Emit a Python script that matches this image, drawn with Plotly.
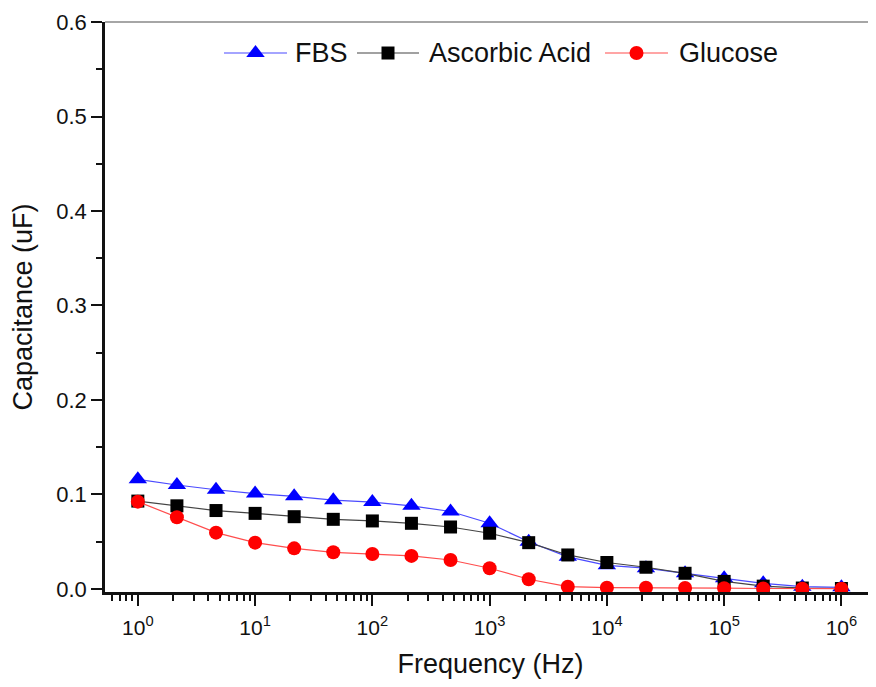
import plotly.graph_objects as go

freq = [1, 2.154, 4.642, 10, 21.54, 46.42, 100, 215.4, 464.2, 1000, 2154, 4642,
        1e4, 2.154e4, 4.642e4, 1e5, 2.154e5, 4.642e5, 1e6]
fbs = [0.116, 0.110, 0.105, 0.101, 0.098, 0.094, 0.092, 0.088, 0.082, 0.0695, 0.050,
       0.034, 0.025, 0.022, 0.0166, 0.0113, 0.006, 0.0024, 0.0018]
ascorbic = [0.093, 0.088, 0.083, 0.080, 0.0765, 0.0737, 0.072, 0.0695, 0.0656, 0.059, 0.049,
            0.036, 0.028, 0.023, 0.0166, 0.008, 0.003, 0.001, 0.0005]
glucose = [0.0924, 0.0759, 0.0596, 0.049, 0.043, 0.0388, 0.037, 0.035, 0.0307, 0.0219, 0.0103,
           0.0024, 0.0014, 0.0014, 0.001, 0.0008, 0.0005, 0.0003, 0.0003]
series_names = ["FBS", "Ascorbic Acid", "Glucose"]

major_vals = [1, 10, 100, 1000, 1e4, 1e5, 1e6]
major_text = ["10<sup>%d</sup>" % i for i in range(7)]
minor_vals = [m * 10 ** k for k in range(-1, 7) for m in range(2, 10)]

styles = [
    dict(line=dict(color="#4a4aff", width=1.2),
         marker=dict(symbol="triangle-up", size=16, color="#0000ff")),
    dict(line=dict(color="#444444", width=1.2),
         marker=dict(symbol="square", size=13, color="#000000")),
    dict(line=dict(color="#ff4d4d", width=1.2),
         marker=dict(symbol="circle", size=14, color="#ff0000")),
]

fig = go.Figure()
for name, ys, st in zip(series_names, [fbs, ascorbic, glucose], styles):
    fig.add_trace(go.Scatter(x=freq, y=ys, name=name, mode="lines+markers",
                             showlegend=False, **st))

# custom legend (paper-like overlay axes)
leg_y = 0.9456
leg_lines = [(0.1543, 0.2361), (0.3268, 0.4073), (0.6485, 0.7302)]
leg_text_x = [0.2442, 0.4170, 0.7419]
for (x0, x1), tx, name, st in zip(leg_lines, leg_text_x, series_names, styles):
    fig.add_trace(go.Scatter(x=[x0, (x0 + x1) / 2, x1], y=[leg_y] * 3,
                             mode="lines", line=st["line"], xaxis="x2", yaxis="y2",
                             showlegend=False, hoverinfo="skip"))
    fig.add_trace(go.Scatter(x=[(x0 + x1) / 2], y=[leg_y], mode="markers",
                             marker=st["marker"], xaxis="x2", yaxis="y2",
                             showlegend=False, hoverinfo="skip"))
    fig.add_annotation(x=tx, y=leg_y, xref="x2", yref="y2", text=name,
                       showarrow=False, xanchor="left", yanchor="middle",
                       font=dict(size=27, color="#111111"))

fig.update_layout(
    width=868, height=671,
    margin=dict(l=97, r=0, t=14, b=87),
    paper_bgcolor="white", plot_bgcolor="white",
    font=dict(family="Liberation Sans, Arial", color="#111111"),
    showlegend=False,
    xaxis2=dict(overlaying="x", range=[0, 1], visible=False, fixedrange=True),
    yaxis2=dict(overlaying="y", range=[0, 1], visible=False, fixedrange=True),
)
fig.update_layout(xaxis=dict(
    type="log", range=[-0.28, 6.295],
    tickmode="array", tickvals=major_vals, ticktext=major_text,
    ticks="outside", ticklen=11, tickwidth=2, tickcolor="#111111",
    showline=True, linecolor="#111111", linewidth=2.5,
    showgrid=False, zeroline=False,
    tickfont=dict(size=21), ticklabelstandoff=4,
    minor=dict(tickmode="array", tickvals=minor_vals, ticks="outside", ticklen=6,
               tickwidth=2, tickcolor="#111111", showgrid=False),
    title=dict(text="Frequency (Hz)", font=dict(size=27), standoff=20),
))
fig.update_layout(yaxis=dict(
    range=[-0.0032, 0.6], tickmode="linear", tick0=0, dtick=0.1, tickformat=".1f",
    ticks="outside", ticklen=11, tickwidth=2, tickcolor="#111111",
    showline=True, linecolor="#111111", linewidth=2.5,
    showgrid=False, zeroline=False,
    tickfont=dict(size=22),
    minor=dict(dtick=0.05, ticks="outside", ticklen=6, tickwidth=2,
               tickcolor="#111111", showgrid=False),
    title=dict(text="Capacitance (uF)", font=dict(size=27), standoff=20),
))
fig.add_shape(type="line", xref="paper", yref="paper", x0=0, x1=1, y0=1, y1=1,
              line=dict(color="#888888", width=1.5))

fig.write_html("out.html")
